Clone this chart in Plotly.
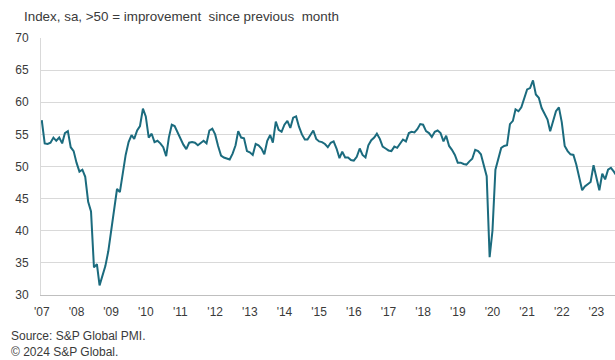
import plotly.graph_objects as go
import pandas as pd

# ---- data (monthly, starting Jul 2007) ----
start_month = "2007-07-01"
values = [
    57.2, 53.6, 53.5, 53.7, 54.5, 54.0, 54.5, 53.6, 55.2, 55.5,
    53.0, 52.4, 50.6, 49.2, 49.5, 48.4, 44.5, 43.0, 34.3, 34.8,
    31.5, 33.0, 34.5, 36.8, 40.0, 43.0, 46.5, 46.0, 49.0, 51.8,
    53.8, 54.9, 54.3, 55.6, 56.3, 59.0, 57.8, 54.5, 55.1, 53.8,
    54.0, 53.6, 53.0, 51.6, 54.5, 56.5, 56.3, 55.3, 54.6, 53.4,
    52.7, 53.7, 53.8, 53.7, 53.3, 53.6, 54.0, 53.6, 55.6, 55.9,
    55.0, 53.2, 51.7, 51.4, 51.3, 51.1, 52.0, 53.3, 55.5, 54.5,
    54.4, 52.4, 52.2, 51.8, 53.5, 53.3, 52.8, 51.9, 54.0, 54.9,
    53.7, 57.0, 55.7, 55.4, 56.5, 57.1, 56.0, 57.6, 57.8, 56.2,
    55.0, 54.2, 54.2, 55.0, 55.6, 54.3, 53.9, 53.8, 53.5, 53.0,
    53.7, 53.9, 52.8, 51.3, 52.3, 51.4, 51.4, 51.0, 50.9, 51.5,
    52.8, 51.8, 51.4, 53.3, 54.1, 54.5, 55.1, 54.3, 53.1, 52.8,
    52.5, 52.4, 53.1, 52.9, 53.5, 54.2, 53.9, 55.2, 55.4, 55.3,
    55.8, 56.6, 56.5, 55.5, 55.2, 54.6, 55.4, 55.6, 55.2, 53.9,
    54.8, 53.2, 52.6, 51.8, 50.6, 50.6, 50.4, 50.3, 50.8, 51.2,
    52.6, 52.4, 51.9, 50.2, 48.5, 35.9, 40.0, 49.5, 51.3, 52.9,
    53.2, 53.3, 56.6, 57.1, 58.9, 58.6, 59.2, 60.6, 62.0, 62.2,
    63.4, 61.2, 60.7, 59.1, 58.3, 57.3, 55.5, 57.3, 58.6, 59.2,
    56.9, 53.2, 52.4, 51.9, 51.8, 50.3, 48.5, 46.3, 46.9, 47.3,
    47.6, 50.2, 48.4, 46.3, 48.9, 48.0, 49.5, 49.8, 49.2, 48.5,
]
tick_years = list(range(2007, 2024))
tick_labels = ["'" + str(y)[2:] for y in tick_years]

subtitle = "Index, sa, >50 = improvement  since previous  month"
source_lines = ["Source: S&P Global PMI.", "© 2024 S&P Global."]

# ---- build ----
dates = pd.date_range(start_month, periods=len(values), freq="MS")
tick_vals = [f"{y}-07-01" for y in tick_years]

W, H = 615, 360
L, R, T, B = 41, 0, 38, 65
pw = W - L - R
ph = H - T - B

FONT = "Liberation Sans, Arial, sans-serif"
TXT = "#3a3a3a"

fig = go.Figure()
fig.add_trace(go.Scatter(
    x=dates, y=values, mode="lines",
    line=dict(color="#1b6b7e", width=2),
    hoverinfo="skip", showlegend=False,
))

fig.update_layout(
    width=W, height=H,
    margin=dict(l=L, r=R, t=T, b=B, pad=0, autoexpand=False),
    paper_bgcolor="white", plot_bgcolor="white",
    font=dict(family=FONT, size=12, color=TXT),
    xaxis=dict(
        range=["2007-06-23", "2024-01-13"],
        tickvals=tick_vals, ticktext=tick_labels,
        showgrid=False, zeroline=False, automargin=False,
        showline=True, linecolor="#bfbfbf", linewidth=1,
        ticks="outside", ticklen=6, tickcolor="rgba(0,0,0,0)",
        tickfont=dict(size=12, color=TXT),
    ),
    yaxis=dict(
        range=[30, 70], dtick=5, tick0=30,
        showgrid=True, gridcolor="#d9d9d9", gridwidth=1,
        zeroline=False, automargin=False,
        showline=True, linecolor="#d9d9d9", linewidth=1,
        ticks="outside", ticklen=9, tickcolor="rgba(0,0,0,0)",
        tickfont=dict(size=12, color=TXT),
    ),
)

def px_x(px):
    return (px - L) / pw

def px_y(py):
    return (H - B - py) / ph

fig.add_annotation(
    text=subtitle, xref="paper", yref="paper",
    x=px_x(22), y=px_y(16), xanchor="left", yanchor="middle",
    showarrow=False, font=dict(family=FONT, size=13.4, color=TXT),
)
for i, line in enumerate(source_lines):
    fig.add_annotation(
        text=line, xref="paper", yref="paper",
        x=px_x(9), y=px_y(336 + 16 * i), xanchor="left", yanchor="middle",
        showarrow=False, font=dict(family=FONT, size=12, color=TXT),
    )

fig.write_html(
    "out.html",
    config={"displayModeBar": False},
    post_script="document.body.style.margin='0';document.body.style.overflow='hidden';",
)
